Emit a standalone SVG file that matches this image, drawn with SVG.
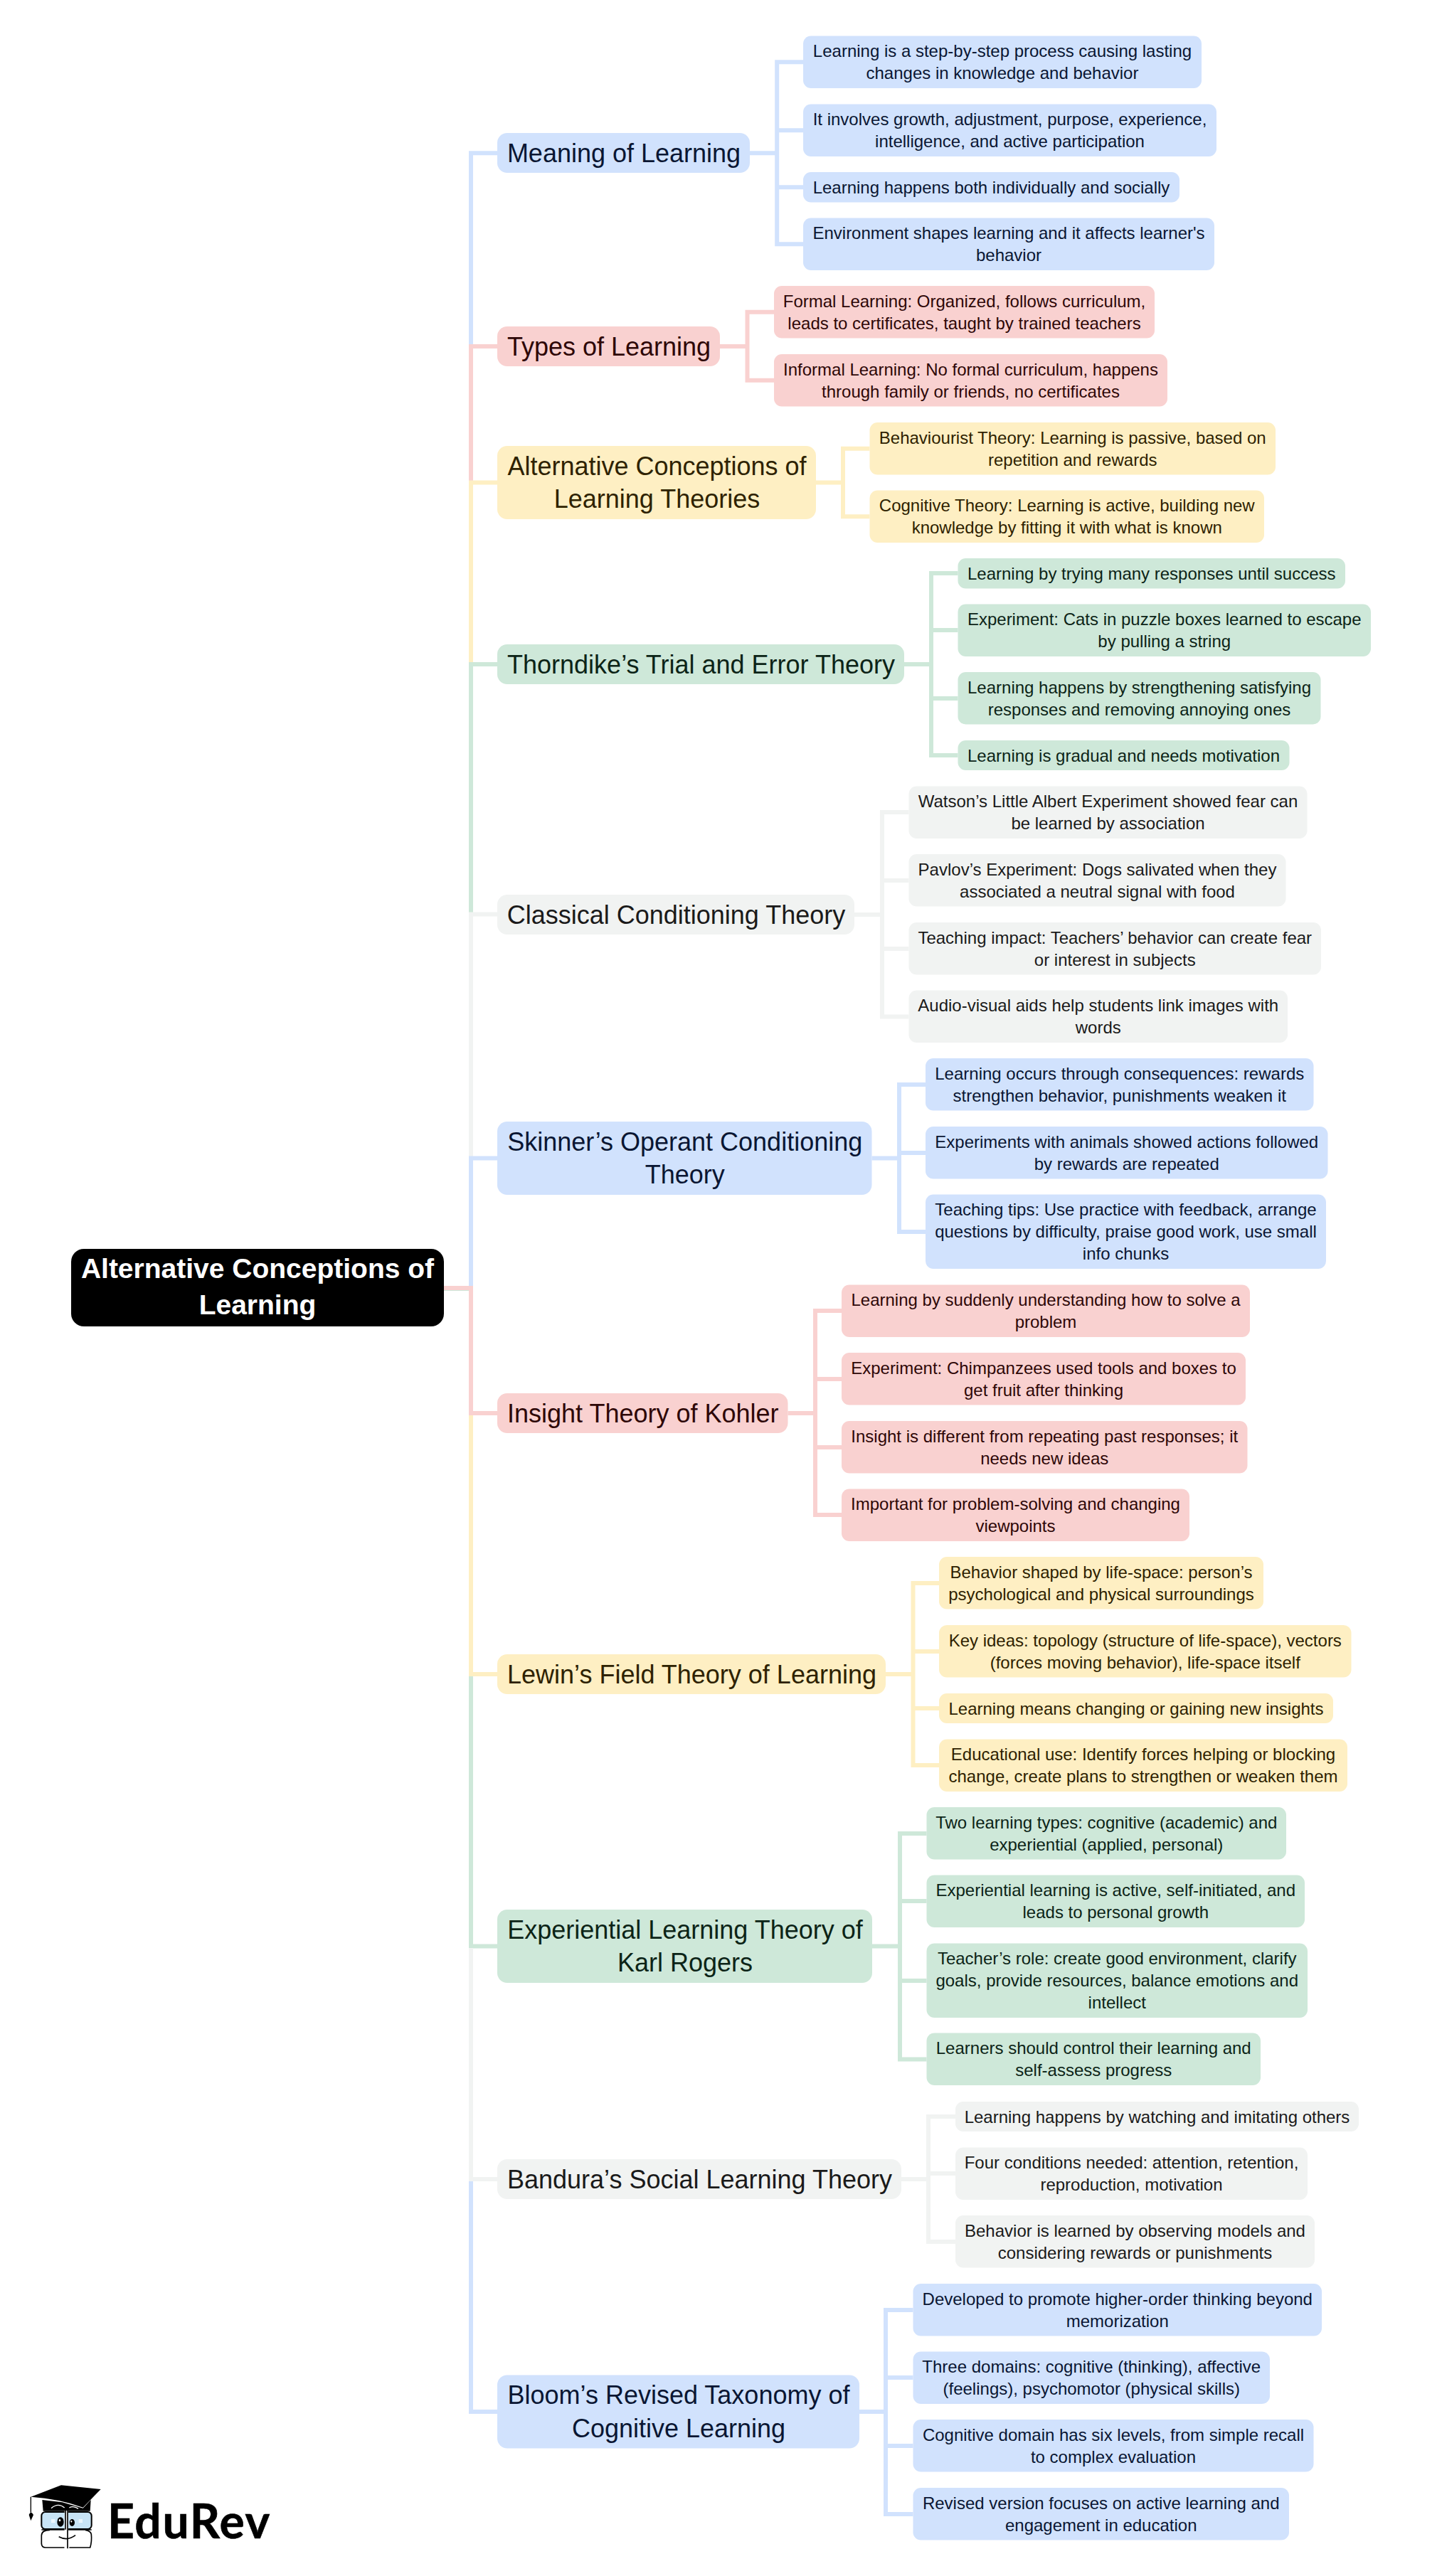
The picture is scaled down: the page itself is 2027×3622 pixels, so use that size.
<svg xmlns="http://www.w3.org/2000/svg" width="2027" height="3622" viewBox="0 0 2027 3622">
<style>
text{font-family:"Liberation Sans",Arial,sans-serif;text-anchor:middle}
.leaf rect{rx:11px;ry:11px}
.leaf text{font-size:24px}
.child rect{rx:14px;ry:14px}
.child text{font-size:36px}
.blue rect{fill:#d1e2fd}.blue text{fill:#0a1633}
.red rect{fill:#f9d1d0}.red text{fill:#2e0707}
.yellow rect{fill:#feefc3}.yellow text{fill:#2e2200}
.green rect{fill:#cee8d9}.green text{fill:#0c2417}
.gray rect{fill:#f1f3f2}.gray text{fill:#1a1a1a}
#connectors path{fill:none;stroke-width:6;stroke-linejoin:miter}
path.blue{stroke:#d1e2fd}path.red{stroke:#f9d1d0}path.yellow{stroke:#feefc3}path.green{stroke:#cee8d9}path.gray{stroke:#f1f3f2}
</style>
<rect width="2027" height="3622" fill="#ffffff"/>
<g id="connectors">
<path class="blue" d="M700 215.3H662V490"/>
<path class="red" d="M700 487H662V681"/>
<path class="yellow" d="M700 678.5H662V937"/>
<path class="green" d="M700 934H662V1288"/>
<path class="gray" d="M700 1285.5H662V1631"/>
<path class="blue" d="M700 1628.5H662V1811"/>
<path class="green" d="M624 1812H662"/>
<path class="red" d="M624 1811H662V1987H700"/>
<path class="yellow" d="M662 1990V2354H700"/>
<path class="green" d="M662 2357V2736.5H700"/>
<path class="gray" d="M662 2739V3064H700"/>
<path class="blue" d="M662 3067V3391H700"/>

<path class="blue" d="M1054 215.3H1092.2M1129 87.25H1092.2V343.25H1129M1092.2 183.25H1129M1092.2 263.25H1129"/>
<path class="red" d="M1012 487H1050.5M1088 438.75H1050.5V534.75H1088"/>
<path class="yellow" d="M1147 678.5H1185M1222.5 630.75H1185V726.25H1222.5"/>
<path class="green" d="M1271 934H1309M1346.5 806H1309V1062H1346.5M1309 886H1346.5M1309 982H1346.5"/>
<path class="gray" d="M1201 1286H1240M1277.5 1142H1240V1429.5H1277.5M1240 1238H1277.5M1240 1334H1277.5"/>
<path class="blue" d="M1225.5 1628.5H1264M1301 1525H1264V1732H1301M1264 1621H1301"/>
<path class="red" d="M1107.5 1987H1146M1183 1843H1146V2130H1183M1146 1939H1183M1146 2035H1183"/>
<path class="yellow" d="M1245 2354H1283.5M1320 2226H1283.5V2482H1320M1283.5 2322H1320M1283.5 2402H1320"/>
<path class="green" d="M1226 2736.5H1265M1302.5 2578H1265V2895.5H1302.5M1265 2673H1302.5M1265 2785H1302.5"/>
<path class="gray" d="M1267 3064H1305M1343 2976H1305V3152H1343M1305 3056H1343"/>
<path class="blue" d="M1208 3391H1245M1283.5 3248H1245V3535H1283.5M1245 3343H1283.5M1245 3439H1283.5"/>
</g>

<g id="root">
<rect x="100" y="1756" width="524" height="109" rx="18" ry="18" fill="#000000"/>
<text x="362" y="1797" font-size="39" font-weight="700" fill="#ffffff">Alternative Conceptions of</text>
<text x="362" y="1848" font-size="39" font-weight="700" fill="#ffffff">Learning</text>
</g>

<g id="meaning" class="child blue"><rect x="699" y="187" width="355" height="56"/><text x="877" y="227.5">Meaning of Learning</text></g>
<g id="meaning-1" class="leaf blue"><rect x="1129" y="50.5" width="560" height="73.5"/><text x="1409" y="80">Learning is a step-by-step process causing lasting</text><text x="1409" y="111">changes in knowledge and behavior</text></g>
<g id="meaning-2" class="leaf blue"><rect x="1129" y="146.5" width="581" height="73.5"/><text x="1419.5" y="176">It involves growth, adjustment, purpose, experience,</text><text x="1419.5" y="207">intelligence, and active participation</text></g>
<g id="meaning-3" class="leaf blue"><rect x="1129" y="242" width="529" height="42.5"/><text x="1393.5" y="271.5">Learning happens both individually and socially</text></g>
<g id="meaning-4" class="leaf blue"><rect x="1129" y="306.5" width="578" height="73.5"/><text x="1418" y="336">Environment shapes learning and it affects learner's</text><text x="1418" y="367">behavior</text></g>

<g id="types" class="child red"><rect x="699" y="459" width="313" height="56"/><text x="856" y="499.5">Types of Learning</text></g>
<g id="types-1" class="leaf red"><rect x="1088" y="402" width="535" height="73.5"/><text x="1355.5" y="431.5">Formal Learning: Organized, follows curriculum,</text><text x="1355.5" y="462.5">leads to certificates, taught by trained teachers</text></g>
<g id="types-2" class="leaf red"><rect x="1088" y="498" width="553" height="73.5"/><text x="1364.5" y="527.5">Informal Learning: No formal curriculum, happens</text><text x="1364.5" y="558.5">through family or friends, no certificates</text></g>

<g id="alt" class="child yellow"><rect x="699" y="627" width="448" height="103"/><text x="923.5" y="667.5">Alternative Conceptions of</text><text x="923.5" y="714">Learning Theories</text></g>
<g id="alt-1" class="leaf yellow"><rect x="1222.5" y="594" width="570.5" height="73.5"/><text x="1507.75" y="623.5">Behaviourist Theory: Learning is passive, based on</text><text x="1507.75" y="654.5">repetition and rewards</text></g>
<g id="alt-2" class="leaf yellow"><rect x="1222.5" y="689.5" width="554.5" height="73.5"/><text x="1499.75" y="719">Cognitive Theory: Learning is active, building new</text><text x="1499.75" y="750">knowledge by fitting it with what is known</text></g>

<g id="thorndike" class="child green"><rect x="699" y="906" width="572" height="56"/><text x="985.5" y="946.5">Thorndike’s Trial and Error Theory</text></g>
<g id="thorndike-1" class="leaf green"><rect x="1346.5" y="785" width="544.5" height="42.5"/><text x="1618.75" y="814.5">Learning by trying many responses until success</text></g>
<g id="thorndike-2" class="leaf green"><rect x="1346.5" y="849.5" width="580.5" height="73.5"/><text x="1636.75" y="879">Experiment: Cats in puzzle boxes learned to escape</text><text x="1636.75" y="910">by pulling a string</text></g>
<g id="thorndike-3" class="leaf green"><rect x="1346.5" y="945" width="510" height="73.5"/><text x="1601.5" y="974.5">Learning happens by strengthening satisfying</text><text x="1601.5" y="1005.5">responses and removing annoying ones</text></g>
<g id="thorndike-4" class="leaf green"><rect x="1346.5" y="1041" width="466" height="42"/><text x="1579.5" y="1070.5">Learning is gradual and needs motivation</text></g>

<g id="classical" class="child gray"><rect x="699" y="1258" width="502" height="56"/><text x="950.5" y="1298.5">Classical Conditioning Theory</text></g>
<g id="classical-1" class="leaf gray"><rect x="1277.5" y="1105.5" width="560" height="73.5"/><text x="1557.5" y="1135">Watson’s Little Albert Experiment showed fear can</text><text x="1557.5" y="1166">be learned by association</text></g>
<g id="classical-2" class="leaf gray"><rect x="1277.5" y="1201" width="530" height="73.5"/><text x="1542.5" y="1230.5">Pavlov’s Experiment: Dogs salivated when they</text><text x="1542.5" y="1261.5">associated a neutral signal with food</text></g>
<g id="classical-3" class="leaf gray"><rect x="1277.5" y="1297" width="579.5" height="73.5"/><text x="1567.25" y="1326.5">Teaching impact: Teachers’ behavior can create fear</text><text x="1567.25" y="1357.5">or interest in subjects</text></g>
<g id="classical-4" class="leaf gray"><rect x="1277.5" y="1392.5" width="532.5" height="73.5"/><text x="1543.75" y="1422">Audio-visual aids help students link images with</text><text x="1543.75" y="1453">words</text></g>

<g id="skinner" class="child blue"><rect x="699" y="1577" width="526.5" height="103"/><text x="962.75" y="1617.5">Skinner’s Operant Conditioning</text><text x="962.75" y="1664">Theory</text></g>
<g id="skinner-1" class="leaf blue"><rect x="1301" y="1488" width="545.5" height="73.5"/><text x="1573.75" y="1517.5">Learning occurs through consequences: rewards</text><text x="1573.75" y="1548.5">strengthen behavior, punishments weaken it</text></g>
<g id="skinner-2" class="leaf blue"><rect x="1301" y="1584" width="565.5" height="73.5"/><text x="1583.75" y="1613.5">Experiments with animals showed actions followed</text><text x="1583.75" y="1644.5">by rewards are repeated</text></g>
<g id="skinner-3" class="leaf blue"><rect x="1301" y="1679.5" width="563" height="104.5"/><text x="1582.5" y="1709">Teaching tips: Use practice with feedback, arrange</text><text x="1582.5" y="1740">questions by difficulty, praise good work, use small</text><text x="1582.5" y="1771">info chunks</text></g>

<g id="insight" class="child red"><rect x="699" y="1959" width="408.5" height="56"/><text x="903.75" y="1999.5">Insight Theory of Kohler</text></g>
<g id="insight-1" class="leaf red"><rect x="1183" y="1806.5" width="574" height="73.5"/><text x="1470" y="1836">Learning by suddenly understanding how to solve a</text><text x="1470" y="1867">problem</text></g>
<g id="insight-2" class="leaf red"><rect x="1183" y="1902" width="568" height="73.5"/><text x="1467" y="1931.5">Experiment: Chimpanzees used tools and boxes to</text><text x="1467" y="1962.5">get fruit after thinking</text></g>
<g id="insight-3" class="leaf red"><rect x="1183" y="1998" width="570.5" height="73.5"/><text x="1468.25" y="2027.5">Insight is different from repeating past responses; it</text><text x="1468.25" y="2058.5">needs new ideas</text></g>
<g id="insight-4" class="leaf red"><rect x="1183" y="2093.5" width="489" height="73.5"/><text x="1427.5" y="2123">Important for problem-solving and changing</text><text x="1427.5" y="2154">viewpoints</text></g>

<g id="lewin" class="child yellow"><rect x="699" y="2326" width="546" height="56"/><text x="972.5" y="2366.5">Lewin’s Field Theory of Learning</text></g>
<g id="lewin-1" class="leaf yellow"><rect x="1320" y="2189" width="456" height="73.5"/><text x="1548" y="2218.5">Behavior shaped by life-space: person’s</text><text x="1548" y="2249.5">psychological and physical surroundings</text></g>
<g id="lewin-2" class="leaf yellow"><rect x="1320" y="2285" width="579.5" height="73.5"/><text x="1609.75" y="2314.5">Key ideas: topology (structure of life-space), vectors</text><text x="1609.75" y="2345.5">(forces moving behavior), life-space itself</text></g>
<g id="lewin-3" class="leaf yellow"><rect x="1320" y="2381" width="554" height="42"/><text x="1597" y="2410.5">Learning means changing or gaining new insights</text></g>
<g id="lewin-4" class="leaf yellow"><rect x="1320" y="2445.5" width="574" height="73.5"/><text x="1607" y="2475">Educational use: Identify forces helping or blocking</text><text x="1607" y="2506">change, create plans to strengthen or weaken them</text></g>

<g id="experiential" class="child green"><rect x="699" y="2685" width="527" height="103"/><text x="963" y="2725.5">Experiential Learning Theory of</text><text x="963" y="2772">Karl Rogers</text></g>
<g id="experiential-1" class="leaf green"><rect x="1302.5" y="2541" width="505.5" height="73.5"/><text x="1555.25" y="2570.5">Two learning types: cognitive (academic) and</text><text x="1555.25" y="2601.5">experiential (applied, personal)</text></g>
<g id="experiential-2" class="leaf green"><rect x="1302.5" y="2636.5" width="531.5" height="73.5"/><text x="1568.25" y="2666">Experiential learning is active, self-initiated, and</text><text x="1568.25" y="2697">leads to personal growth</text></g>
<g id="experiential-3" class="leaf green"><rect x="1302.5" y="2732.5" width="535.5" height="104.5"/><text x="1570.25" y="2762">Teacher’s role: create good environment, clarify</text><text x="1570.25" y="2793">goals, provide resources, balance emotions and</text><text x="1570.25" y="2824">intellect</text></g>
<g id="experiential-4" class="leaf green"><rect x="1302.5" y="2858.5" width="469.5" height="73.5"/><text x="1537.25" y="2888">Learners should control their learning and</text><text x="1537.25" y="2919">self-assess progress</text></g>

<g id="bandura" class="child gray"><rect x="699" y="3036" width="568" height="56"/><text x="983.5" y="3076.5">Bandura’s Social Learning Theory</text></g>
<g id="bandura-1" class="leaf gray"><rect x="1343" y="2955" width="567" height="42"/><text x="1626.5" y="2984.5">Learning happens by watching and imitating others</text></g>
<g id="bandura-2" class="leaf gray"><rect x="1343" y="3019.5" width="495" height="73.5"/><text x="1590.5" y="3049">Four conditions needed: attention, retention,</text><text x="1590.5" y="3080">reproduction, motivation</text></g>
<g id="bandura-3" class="leaf gray"><rect x="1343" y="3115" width="505" height="73.5"/><text x="1595.5" y="3144.5">Behavior is learned by observing models and</text><text x="1595.5" y="3175.5">considering rewards or punishments</text></g>

<g id="bloom" class="child blue"><rect x="699" y="3339.5" width="509" height="103"/><text x="954" y="3380">Bloom’s Revised Taxonomy of</text><text x="954" y="3426.5">Cognitive Learning</text></g>
<g id="bloom-1" class="leaf blue"><rect x="1283.5" y="3211" width="574.5" height="73.5"/><text x="1570.75" y="3240.5">Developed to promote higher-order thinking beyond</text><text x="1570.75" y="3271.5">memorization</text></g>
<g id="bloom-2" class="leaf blue"><rect x="1283.5" y="3306.5" width="501.5" height="73.5"/><text x="1534.25" y="3336">Three domains: cognitive (thinking), affective</text><text x="1534.25" y="3367">(feelings), psychomotor (physical skills)</text></g>
<g id="bloom-3" class="leaf blue"><rect x="1283.5" y="3402" width="563" height="73.5"/><text x="1565" y="3431.5">Cognitive domain has six levels, from simple recall</text><text x="1565" y="3462.5">to complex evaluation</text></g>
<g id="bloom-4" class="leaf blue"><rect x="1283.5" y="3498" width="528.5" height="73.5"/><text x="1547.75" y="3527.5">Revised version focuses on active learning and</text><text x="1547.75" y="3558.5">engagement in education</text></g>

<g id="logo">
<g transform="translate(0 3300) scale(0.33333)">
<path d="M178 645L182 692H380L383 645L350 680L262 655Z" fill="#000"/>
<path d="M216 680Q245 655 272 678M292 678Q310 668 330 682" fill="none" stroke="#fff" stroke-width="4"/>
<path d="M130 632L258 583L425 600L350 677Q250 640 130 632Z" fill="#000"/>
<path d="M130 632V698" stroke="#000" stroke-width="4" fill="none"/>
<path d="M122 708Q130 688 141 708L130 733Z" fill="#000"/>
<rect x="175" y="696" width="211" height="72" rx="16" fill="#c8e4f6" stroke="#000" stroke-width="6"/>
<path d="M210 772Q176 772 175 795V830Q176 846 192 846H272M292 846H380Q388 820 385 790Q383 776 360 772" fill="none" stroke="#000" stroke-width="5"/>
<path d="M175 771H386" stroke="#000" stroke-width="5" fill="none"/>
<rect x="272" y="690" width="16" height="160" fill="#fff"/>
<path d="M276 690V770M285 690V850" stroke="#000" stroke-width="5" fill="none"/>
<ellipse cx="255" cy="738" rx="14" ry="20" fill="#000"/>
<ellipse cx="304" cy="741" rx="11" ry="15" fill="#000"/>
<ellipse cx="252" cy="731" rx="4" ry="5" fill="#fff"/>
<ellipse cx="301" cy="736" rx="3" ry="4" fill="#fff"/>
<path d="M216 730H232M216 738H232M332 730H348M332 738H348" stroke="#fff" stroke-width="5" fill="none"/>
<path d="M248 800Q285 820 318 794" fill="none" stroke="#000" stroke-width="5"/>
</g>
<text x="151" y="3569" font-size="66" font-weight="700" letter-spacing="1.6" fill="#000" stroke="#000" stroke-width="0.6" style="font-family:Lato,'Liberation Sans',sans-serif;text-anchor:start">EduRev</text>
</g>
</svg>
